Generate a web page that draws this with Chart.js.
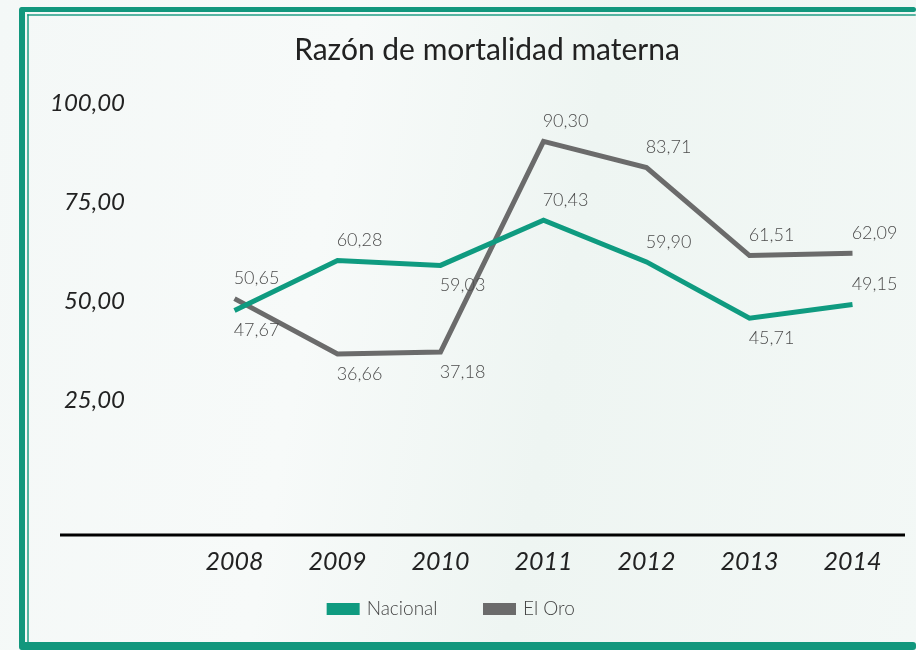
<!DOCTYPE html>
<html>
<head>
<meta charset="utf-8">
<script src="https://cdn.jsdelivr.net/npm/chart.js@4.4.0/dist/chart.umd.min.js"></script>
<style>
  html, body { margin: 0; padding: 0; }
  body {
    width: 916px; height: 650px; overflow: hidden; position: relative;
    background: linear-gradient(100deg, #f4f8f7 0%, #f7faf9 35%, #eef5f2 60%, #f3f8f6 100%);
  }
  .brush { position: absolute; background: #12977d; border-radius: 3px; }
  #wrap { position: absolute; left: 0; top: 0; width: 916px; height: 650px; }
</style>
</head>
<body>
<div class="brush" style="left:20px;top:7px;width:896px;height:5px;"></div>
<div class="brush" style="left:27px;top:14px;width:889px;height:2px;opacity:.7"></div>
<div class="brush" style="left:19px;top:7px;width:6px;height:643px;"></div>
<div class="brush" style="left:27px;top:14px;width:2px;height:630px;opacity:.7"></div>
<div class="brush" style="left:20px;top:642px;width:896px;height:8px;"></div>
<div id="wrap"><canvas id="lineChart" width="916" height="650"></canvas></div>
<script>
var years = ["2008", "2009", "2010", "2011", "2012", "2013", "2014"];
var nacional = [47.67, 60.28, 59.03, 70.43, 59.90, 45.71, 49.15];
var elOro = [50.65, 36.66, 37.18, 90.30, 83.71, 61.51, 62.09];
var yTicks = [25, 50, 75, 100];

// where each value label sits relative to its point
var nacionalPos = ["below", "above", "below", "above", "above", "below", "above"];
var elOroPos = ["above", "below", "below", "above", "above", "above", "above"];

var LEGEND_PAD = 48;   // wide gap between legend items
var LEGEND_CUT = 38;   // but keep the legend short vertically
var LEGEND_UP = 29.5;
var TITLE_SHIFT = 70;

function coma(v) {
    return v.toFixed(2).replace('.', ',');
}

var valueLabels = {
    id: 'valueLabels',
    afterDatasetsDraw: function(chart) {
        var ctx = chart.ctx;
        ctx.save();
        ctx.font = '300 18px Lato, "Open Sans", sans-serif';
        ctx.fillStyle = '#4d4d4d';
        ctx.textAlign = 'center';
        ctx.textBaseline = 'middle';
        chart.data.datasets.forEach(function(ds, i) {
            var meta = chart.getDatasetMeta(i);
            meta.data.forEach(function(pt, j) {
                var dy = ds.labelPos[j] == 'above' ? -20 : 20;
                ctx.fillText(coma(ds.data[j]), pt.x + 22, pt.y + dy);
            });
        });
        ctx.restore();
    }
};

var baseLine = {
    id: 'baseLine',
    afterDraw: function(chart) {
        var ctx = chart.ctx;
        var y = chart.chartArea.bottom;
        ctx.save();
        ctx.strokeStyle = '#000';
        ctx.lineWidth = 3;
        ctx.beginPath();
        ctx.moveTo(60, y);
        ctx.lineTo(905, y);
        ctx.stroke();
        ctx.restore();
    }
};

// legend padding is both horizontal and vertical in Chart.js; squeeze the vertical part
var layoutTweaks = {
    id: 'layoutTweaks',
    beforeLayout: function(chart) {
        var lg = chart.legend;
        if (lg && !lg._squeezed) {
            var fit = lg.fit;
            lg.fit = function() { fit.call(this); this.height -= LEGEND_CUT; };
            lg._squeezed = true;
        }
    },
    afterLayout: function(chart) {
        if (chart.legend) chart.legend.top -= LEGEND_UP;
        if (chart.titleBlock) chart.titleBlock.left += TITLE_SHIFT;
    }
};

window.onload = function(){
    var ctxL = document.getElementById("lineChart").getContext('2d');
    var myLineChart = new Chart(ctxL, {
    type: 'line',
    data: {
    labels: years,
    datasets: [{
        label: "Nacional",
        data: nacional,
        labelPos: nacionalPos,
        borderColor: "#0f9b80",
        backgroundColor: "#0f9b80",
        borderWidth: 5,
        pointRadius: 0,
        fill: false
    }, {
        label: "El Oro",
        data: elOro,
        labelPos: elOroPos,
        borderColor: "#6b6b6b",
        backgroundColor: "#6b6b6b",
        borderWidth: 5,
        pointRadius: 0,
        fill: false
    }]
    },
    plugins: [valueLabels, baseLine, layoutTweaks],
    options: {
    responsive: false,
    animation: false,
    layout: { padding: { left: 0, right: 12, top: 0, bottom: 30 } },
    plugins: {
        title: {
            display: true,
            text: "Razón de mortalidad materna",
            color: '#222',
            font: { family: 'Lato, "Open Sans", sans-serif', size: 30, weight: 'normal' },
            padding: { top: 32, bottom: 35 }
        },
        legend: {
            position: 'bottom',
            labels: {
                boxWidth: 28,
                boxHeight: 7,
                padding: LEGEND_PAD,
                color: '#444',
                font: { family: 'Lato, "Open Sans", sans-serif', size: 19, weight: '300' }
            }
        },
        tooltip: { enabled: false }
    },
    scales: {
        x: {
            offset: true,
            grid: { display: false },
            border: { display: false },
            ticks: {
                color: '#222',
                padding: 4,
                font: { family: 'Lato, "Open Sans", sans-serif', size: 25, style: 'italic' }
            }
        },
        y: {
            min: -9,
            max: 100,
            grid: { display: false },
            border: { display: false },
            afterFit: function(scale) { scale.width = 183; },
            afterBuildTicks: function(scale) {
                scale.ticks = yTicks.map(function(v) { return { value: v }; });
            },
            ticks: {
                color: '#222',
                padding: 50,
                callback: function(v) { return coma(v); },
                font: { family: 'Lato, "Open Sans", sans-serif', size: 24, style: 'italic' }
            }
        }
    }
    }
    });
}
</script>
</body>
</html>
